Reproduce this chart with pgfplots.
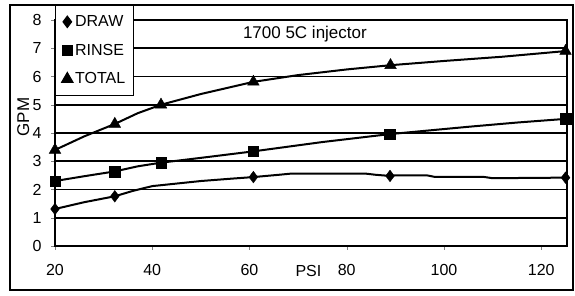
\documentclass[border=0pt]{standalone}
\usepackage{pgfplots}
\pgfplotsset{compat=1.18}
\usepackage{fontspec}
\setmainfont{Liberation Sans}
\begin{document}
\begin{tikzpicture}
\path (0pt,0pt) rectangle (575pt,296pt);
\draw[line width=1.2pt] (10pt,6pt) rectangle (573pt,291pt);
\begin{axis}[
  at={(55pt,50pt)}, anchor=south west,
  scale only axis, width=512pt, height=226pt,
  xmin=20, xmax=125.3, ymin=0, ymax=8,
  xtick={20,40,60,80,100,120}, ytick={0,1,2,3,4,5,6,7,8},
  ymajorgrids=true, grid style={black, line width=1.6pt},
  axis line style={line width=1.4pt},
  tick align=outside, major tick length=4pt,
  tick pos=left,
  ticklabel style={font=\fontsize{16}{19}\selectfont},
  xticklabel style={yshift=-11pt},
  yticklabel style={xshift=-6pt},
  /pgf/number format/assume math mode=true,
  clip mode=individual,
  xlabel={PSI},
  xlabel style={at={(axis description cs:0.495,0)}, anchor=center, yshift=-25pt, font=\fontsize{16}{19}\selectfont},
  ylabel={GPM},
  ylabel style={at={(axis description cs:-0.062,0.571)}, anchor=center, font=\fontsize{17}{20}\selectfont},
  legend style={at={(axis description cs:0,1.066)}, anchor=north west, font=\fontsize{16}{19}\selectfont,
    draw=black, line width=1pt, row sep=12pt, inner xsep=6pt, inner ysep=8pt, fill=white},
  legend cell align=left,
  legend image code/.code={\draw[#1] plot coordinates {(0.3cm,0cm)};},
]
% lines
\addplot[black, line width=2pt, forget plot] coordinates {
(20,1.31) (26,1.55) (32.3,1.76) (36,1.95) (40,2.12) (50,2.3) (56,2.38) (60.8,2.44) (66,2.52) (68.4,2.56) (84,2.56) (86,2.52) (88.9,2.48) (90,2.5) (96.5,2.5) (98,2.45) (108,2.45) (110,2.4) (125,2.42)};
\addplot[black, line width=2pt, forget plot] coordinates {
(20,2.3) (26,2.47) (32.3,2.64) (37,2.82) (41.8,2.95) (50,3.12) (60.8,3.35) (75,3.68) (88.8,3.96) (105,4.22) (115,4.37) (125,4.5)};
\addplot[black, line width=2pt, forget plot] coordinates {
(20,3.4) (26,3.88) (32.3,4.32) (37,4.7) (41.8,5.0) (50,5.38) (60.8,5.81) (70,6.05) (80,6.25) (89,6.4) (100,6.55) (112,6.7) (125,6.9)};
% markers
\addplot[only marks, mark=diamond*, mark size=5.8pt, black] coordinates {
(20,1.31) (32.3,1.76) (60.8,2.44) (88.9,2.48) (125,2.42)};
\addlegendentry{DRAW}
\addplot[only marks, mark=square*, mark size=5.3pt, black] coordinates {
(20,2.3) (32.3,2.64) (41.8,2.95) (60.8,3.35) (88.8,3.96) (125,4.5)};
\addlegendentry{RINSE}
\addplot[only marks, mark=triangle*, mark size=6.7pt, black] coordinates {
(20,3.4) (32.3,4.32) (41.8,5.0) (60.8,5.81) (89,6.4) (125,6.9)};
\addlegendentry{TOTAL}
\node[font=\fontsize{17}{20}\selectfont] at (axis cs:71.4,7.5) {1700 5C injector};
\end{axis}
\end{tikzpicture}
\end{document}
